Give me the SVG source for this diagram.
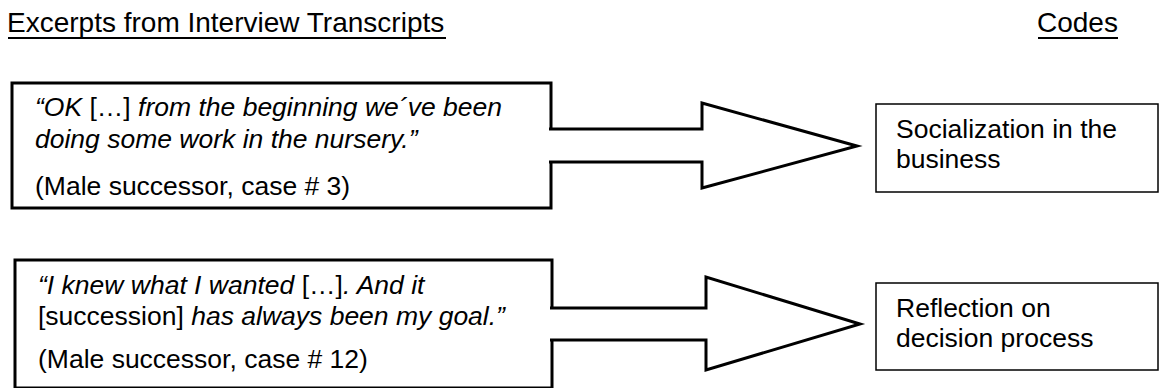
<svg xmlns="http://www.w3.org/2000/svg" width="1160" height="388" viewBox="0 0 1160 388">
<style>
text{font-family:"Liberation Sans",Arial,sans-serif;fill:#000}
.h{font-size:28px}
.t{font-size:26.5px}
.i{font-style:italic}
.quote{fill:#fff;stroke:#000;stroke-width:3}
.code{fill:#fff;stroke:#000;stroke-width:1.5}
.arrow{fill:#fff;stroke:#000;stroke-width:3;stroke-linejoin:miter}
.ul{stroke:#000;stroke-width:2}
</style>
<rect width="1160" height="388" fill="#fff"/>
<g id="heading-excerpts">
<text class="h" x="7" y="32">Excerpts from Interview Transcripts</text>
<line class="ul" x1="8" y1="38" x2="446" y2="38"/>
</g>
<g id="heading-codes">
<text class="h" x="1037" y="32">Codes</text>
<line class="ul" x1="1038" y1="38" x2="1118" y2="38"/>
</g>
<g id="quote1">
<rect class="quote" x="12" y="83" width="539" height="125"/>
<text class="t" x="35" y="116"><tspan class="i">“OK</tspan> […] <tspan class="i">from the beginning we´ve been</tspan></text>
<text class="t i" x="35" y="148">doing some work in the nursery.”</text>
<text class="t" x="35" y="195">(Male successor, case # 3)</text>
</g>
<g id="quote2">
<rect class="quote" x="15" y="260" width="537" height="128"/>
<text class="t" x="38" y="294"><tspan class="i">“I knew what I wanted</tspan> […]<tspan class="i">. And it</tspan></text>
<text class="t" x="38" y="325">[succession] <tspan class="i">has always been my goal.”</tspan></text>
<text class="t" x="38" y="368">(Male successor, case # 12)</text>
</g>
<g id="code1">
<rect class="code" x="876" y="104" width="282" height="88"/>
<text class="t" x="896" y="138">Socialization in the</text>
<text class="t" x="896" y="168">business</text>
</g>
<g id="code2">
<rect class="code" x="876" y="283" width="282" height="87"/>
<text class="t" x="896" y="317">Reflection on</text>
<text class="t" x="896" y="347">decision process</text>
</g>
<g id="connectors">
<path class="arrow" d="M549 129 H702 V103 L857 146 L702 188 V162 H549"/>
<path class="arrow" d="M550 308 H706 V277 L860 324 L706 370 V340 H550"/>
</g>
</svg>
